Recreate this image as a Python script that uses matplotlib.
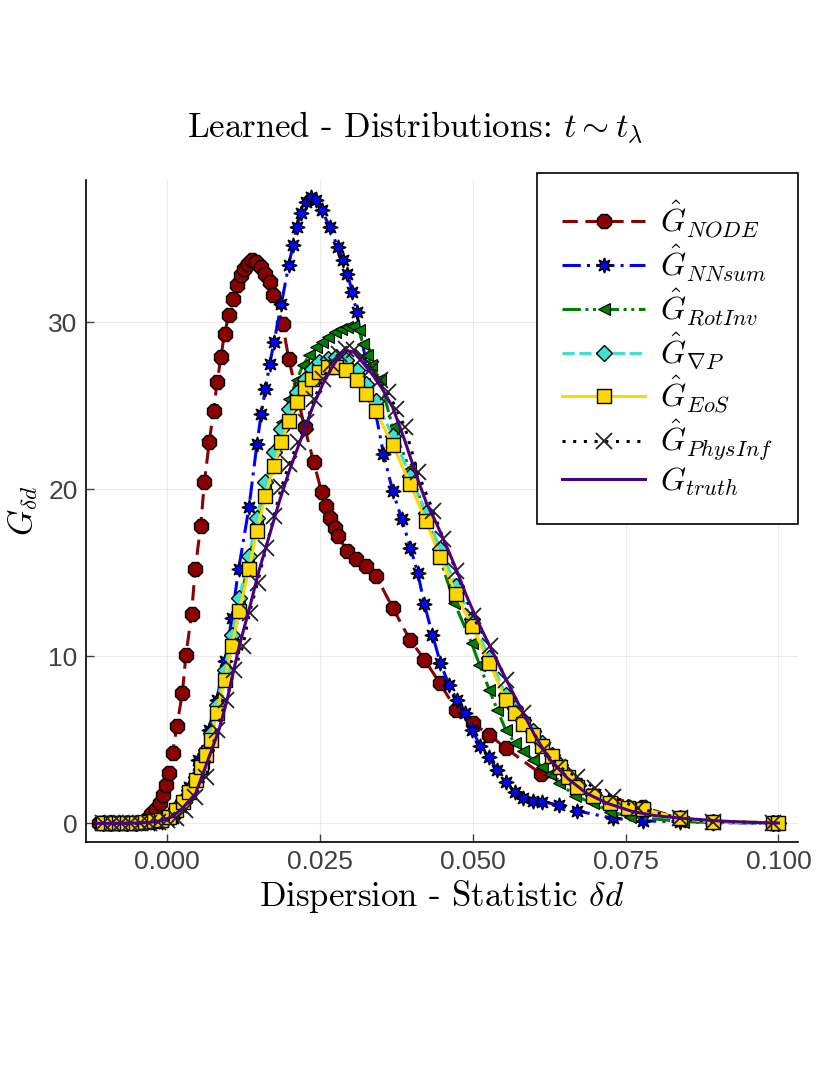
import numpy as np
import matplotlib
matplotlib.use('Agg')
import matplotlib.pyplot as plt

plt.rcParams['mathtext.fontset'] = 'cm'
plt.rcParams['font.family'] = ['Liberation Sans', 'DejaVu Sans']

# ---- data ----
x_node = [-0.0111, -0.0100, -0.0090, -0.0065, -0.0050, -0.0035, -0.0026, -0.0018, -0.0011, -0.0006,
          -0.0001, 0.0004, 0.0009, 0.0016, 0.0025, 0.0031, 0.0040, 0.0046, 0.0055, 0.0061,
          0.0069, 0.0076, 0.0082, 0.0088, 0.0094, 0.0101, 0.0108, 0.0114, 0.0121, 0.0126,
          0.0132, 0.0139, 0.0146, 0.0153, 0.0161, 0.0168, 0.0174, 0.0189, 0.0199, 0.0225,
          0.0240, 0.0253, 0.0260, 0.0267, 0.0274, 0.0280, 0.0294, 0.0309, 0.0325, 0.0342,
          0.0369, 0.0397, 0.0421, 0.0446, 0.0473, 0.0500, 0.0527, 0.0554, 0.0612, 0.0779,
          0.0839, 0.0893, 0.0991]
y_node = [0.0, 0.0, 0.0, 0.0, 0.05, 0.2, 0.56, 0.84, 1.2, 1.7,
          2.3, 3.0, 4.2, 5.8, 7.8, 10.1, 12.5, 15.2, 17.8, 20.4,
          22.8, 24.7, 26.4, 27.9, 29.3, 30.4, 31.4, 32.2, 32.8, 33.2,
          33.5, 33.7, 33.6, 33.3, 32.9, 32.4, 31.6, 29.9, 27.8, 23.7,
          21.6, 19.8, 19.0, 18.3, 17.7, 17.2, 16.3, 15.8, 15.4, 14.8,
          12.9, 11.0, 9.8, 8.4, 6.8, 6.0, 5.3, 4.5, 2.95, 0.96,
          0.3, 0.1, 0.04]

x_nnsum = [-0.0110, -0.0095, -0.0080, -0.0065, -0.0050, -0.0036, -0.0022, -0.0008, 0.0009, 0.0022,
           0.0036, 0.0050, 0.0068, 0.0081, 0.0095, 0.0106, 0.0117, 0.0134, 0.0147, 0.0154,
           0.0161, 0.0168, 0.0175, 0.0187, 0.0199, 0.0206, 0.0212, 0.0219, 0.0227, 0.0236,
           0.0244, 0.0253, 0.0266, 0.0279, 0.0288, 0.0295, 0.0303, 0.0310, 0.0354, 0.0369,
           0.0384, 0.0398, 0.0410, 0.0421, 0.0434, 0.0447, 0.0461, 0.0474, 0.0487, 0.0499,
           0.0512, 0.0527, 0.0540, 0.0554, 0.0569, 0.0583, 0.0599, 0.0614, 0.0641, 0.0670,
           0.0730, 0.0778, 0.0839, 0.0893, 0.0991]
y_nnsum = [0.0, 0.0, 0.0, 0.0, 0.0, 0.0, 0.05, 0.1, 0.3, 1.0,
           2.2, 3.8, 5.6, 7.4, 9.7, 12.3, 15.2, 18.9, 22.7, 24.5,
           26.0, 27.5, 28.8, 31.1, 33.4, 34.6, 35.7, 36.5, 37.2, 37.5,
           37.3, 36.7, 35.7, 34.5, 33.7, 32.9, 31.8, 30.6, 22.1, 19.9,
           18.2, 16.5, 15.0, 13.1, 11.3, 9.6, 8.3, 7.4, 6.6, 5.6,
           4.65, 3.95, 3.2, 2.45, 1.85, 1.5, 1.35, 1.29, 1.1, 0.75,
           0.3, 0.15, 0.1, 0.05, 0.02]

x_rotinv = [-0.0110, -0.0095, -0.0080, -0.0065, -0.0050, -0.0036, -0.0022, -0.0008, 0.0004, 0.0015,
            0.0026, 0.0036, 0.0047, 0.0058, 0.0070, 0.0082, 0.0094, 0.0106, 0.0118, 0.0133,
            0.0147, 0.0161, 0.0175, 0.0188, 0.0200, 0.0212, 0.0222, 0.0233, 0.0243, 0.0253,
            0.0264, 0.0274, 0.0284, 0.0294, 0.0304, 0.0314, 0.0320, 0.0327, 0.0334, 0.0348,
            0.0369, 0.0397, 0.0425, 0.0447, 0.0470, 0.0498, 0.0511, 0.0527, 0.0540, 0.0554,
            0.0569, 0.0583, 0.0599, 0.0614, 0.0627, 0.0641, 0.0668, 0.0697, 0.0724, 0.0757,
            0.0844, 0.0893, 0.0995]
y_rotinv = [0.0, 0.0, 0.0, 0.0, 0.0, 0.05, 0.1, 0.2, 0.4, 0.8,
            1.3, 1.9, 2.6, 3.6, 5.0, 6.8, 8.8, 10.9, 13.0, 15.6,
            18.0, 20.3, 22.4, 24.0, 25.4, 26.5, 27.4, 28.0, 28.5, 28.8,
            29.1, 29.4, 29.6, 29.7, 29.76, 29.5, 28.7, 28.0, 27.4, 26.6,
            23.7, 21.2, 18.3, 15.8, 13.2, 10.8, 9.5, 8.0, 6.8, 5.6,
            4.8, 4.3, 3.8, 3.4, 2.95, 2.43, 1.63, 1.2, 0.7, 0.4,
            0.1, 0.05, 0.0]

x_gradp = [-0.0105, -0.0092, -0.0078, -0.0065, -0.0050, -0.0036, -0.0022, -0.0010, 0.0004, 0.0015,
           0.0026, 0.0036, 0.0047, 0.0056, 0.0064, 0.0072, 0.0081, 0.0094, 0.0106, 0.0118,
           0.0134, 0.0147, 0.0161, 0.0175, 0.0187, 0.0200, 0.0212, 0.0225, 0.0237, 0.0249,
           0.0263, 0.0277, 0.0293, 0.0310, 0.0326, 0.0341, 0.0369, 0.0398, 0.0423, 0.0447,
           0.0473, 0.0499, 0.0527, 0.0554, 0.0569, 0.0583, 0.0599, 0.0614, 0.0629, 0.0642,
           0.0656, 0.0672, 0.0697, 0.0725, 0.0754, 0.0779, 0.0839, 0.0893, 0.0991, 0.1000]
y_gradp = [0.0, 0.0, 0.0, 0.0, 0.05, 0.1, 0.15, 0.25, 0.45, 0.9,
           1.4, 2.0, 2.8, 3.6, 4.4, 5.4, 7.1, 9.2, 11.3, 13.5,
           16.0, 18.3, 20.4, 22.2, 23.6, 24.8, 25.8, 26.6, 27.2, 27.6,
           27.8, 27.9, 27.7, 27.1, 26.3, 25.3, 23.2, 20.8, 18.6, 16.4,
           14.2, 12.2, 9.9, 7.7, 6.9, 6.2, 5.5, 4.8, 4.1, 3.5,
           2.9, 2.3, 1.7, 1.25, 0.95, 0.85, 0.3, 0.1, 0.04, 0.02]

x_eos = [-0.0105, -0.0092, -0.0078, -0.0065, -0.0050, -0.0036, -0.0022, -0.0010, 0.0004, 0.0015,
         0.0026, 0.0036, 0.0047, 0.0056, 0.0064, 0.0072, 0.0081, 0.0094, 0.0106, 0.0118,
         0.0134, 0.0147, 0.0161, 0.0175, 0.0187, 0.0200, 0.0212, 0.0225, 0.0237, 0.0249,
         0.0263, 0.0277, 0.0293, 0.0310, 0.0326, 0.0341, 0.0369, 0.0398, 0.0423, 0.0447,
         0.0473, 0.0499, 0.0527, 0.0554, 0.0569, 0.0583, 0.0599, 0.0614, 0.0629, 0.0642,
         0.0656, 0.0670, 0.0697, 0.0725, 0.0754, 0.0779, 0.0839, 0.0893, 0.0991, 0.1000]
y_eos = [0.0, 0.0, 0.0, 0.0, 0.05, 0.1, 0.15, 0.2, 0.4, 0.8,
         1.3, 1.9, 2.6, 3.4, 4.1, 5.0, 6.6, 8.6, 10.6, 12.7,
         15.2, 17.5, 19.6, 21.4, 22.8, 24.1, 25.2, 26.05, 26.6, 27.0,
         27.3, 27.3, 27.1, 26.5, 25.7, 24.7, 22.65, 20.3, 18.1, 15.95,
         13.7, 11.8, 9.6, 7.4, 6.6, 5.95, 5.3, 4.6, 4.0, 3.4,
         2.8, 2.2, 1.63, 1.2, 0.9, 0.84, 0.3, 0.1, 0.04, 0.02]

x_phys = [-0.0105, -0.0090, -0.0075, -0.0060, -0.0045, -0.0030, -0.0015, 0.0000, 0.0015, 0.0030,
          0.0045, 0.0064, 0.0081, 0.0097, 0.0110, 0.0124, 0.0135, 0.0148, 0.0162, 0.0175,
          0.0187, 0.0200, 0.0214, 0.0228, 0.0241, 0.0255, 0.0268, 0.0281, 0.0293, 0.0306,
          0.0320, 0.0334, 0.0348, 0.0361, 0.0375, 0.0389, 0.0410, 0.0435, 0.0452, 0.0473,
          0.0500, 0.0528, 0.0555, 0.0582, 0.0615, 0.0640, 0.0670, 0.0700, 0.0730, 0.0770,
          0.0839, 0.0893, 0.0991]
y_phys = [0.0, 0.0, 0.0, 0.0, 0.0, 0.05, 0.1, 0.2, 0.3, 0.8,
          1.6, 2.8, 5.6, 7.4, 9.2, 10.6, 12.6, 14.4, 16.5, 18.4,
          20.1, 21.5, 22.8, 24.0, 25.4, 26.6, 27.5, 28.1, 28.4, 28.3,
          27.9, 27.2, 26.5, 25.8, 24.8, 23.7, 21.0, 18.7, 17.0, 15.1,
          12.4, 10.6, 8.6, 6.6, 4.4, 3.4, 2.8, 2.1, 1.6, 0.9,
          0.3, 0.1, 0.04]

x_truth = [-0.0115, -0.0080, -0.0050, -0.0030, -0.0010, 0.0009, 0.0025, 0.0047, 0.0069, 0.0085,
           0.0097, 0.0118, 0.0135, 0.0151, 0.0168, 0.0184, 0.0200, 0.0217, 0.0238, 0.0255,
           0.0270, 0.0283, 0.0293, 0.0305, 0.0315, 0.0335, 0.0352, 0.0369, 0.0388, 0.0408,
           0.0424, 0.0440, 0.0457, 0.0473, 0.0490, 0.0508, 0.0528, 0.0552, 0.0577, 0.0601,
           0.0626, 0.0655, 0.0686, 0.0720, 0.0762, 0.0800, 0.0844, 0.0900, 0.0960, 0.1000]
y_truth = [0.0, 0.0, 0.02, 0.05, 0.15, 0.4, 0.9, 1.8, 4.0, 5.6,
           7.2, 10.6, 12.9, 15.2, 17.3, 19.3, 21.1, 22.8, 24.9, 26.3,
           27.3, 28.0, 28.3, 28.2, 27.8, 26.9, 26.0, 24.9, 23.0, 20.8,
           19.2, 18.0, 16.6, 15.2, 13.6, 12.1, 10.6, 8.8, 7.0, 5.3,
           3.8, 2.7, 1.8, 1.2, 0.7, 0.45, 0.3, 0.15, 0.05, 0.02]

x_ticks = [0.0, 0.025, 0.05, 0.075, 0.1]
x_ticklabels = ['0.000', '0.025', '0.050', '0.075', '0.100']
y_ticks = [0, 10, 20, 30]

fig = plt.figure(figsize=(8.3, 10.75), dpi=100)
ax = fig.add_axes([0.1036, 0.217, 0.8578, 0.6156])

ax.plot(x_node, y_node, color='#8B0000', lw=2.2, ls=(0, (5, 2.5)), marker='8', ms=10.5,
        mfc='#8B0000', mec='black', mew=1.0, label=r'$\hat{G}_{NODE}$')
ax.plot(x_nnsum, y_nnsum, color='#0000FF', lw=2.2, ls=(0, (6, 2, 1, 2)), marker=(8, 1, 0), ms=11,
        mfc='#0000FF', mec='black', mew=1.0, label=r'$\hat{G}_{NNsum}$')
ax.plot(x_rotinv, y_rotinv, color='#008000', lw=2.2, ls=(0, (6, 1.5, 1, 1.5, 1, 1.5)), marker='<', ms=8,
        mfc='#008000', mec='black', mew=0.8, label=r'$\hat{G}_{RotInv}$')
ax.plot(x_gradp, y_gradp, color='#40E0D0', lw=2.2, ls=(0, (4, 1.5)), marker='D', ms=8.5,
        mfc='#40E0D0', mec='black', mew=1.0, label=r'$\hat{G}_{\nabla P}$')
ax.plot(x_eos, y_eos, color='#FFD700', lw=2.2, ls='-', marker='s', ms=10,
        mfc='#FFD700', mec='black', mew=1.0, label=r'$\hat{G}_{EoS}$')
ax.plot(x_phys, y_phys, color='black', lw=2.2, ls=(0, (1, 2.5)), marker='x', ms=11,
        mec='#222222', mew=1.3, label=r'$\hat{G}_{PhysInf}$')
ax.plot(x_truth, y_truth, color='#4B0082', lw=2.2, ls='-', label=r'$G_{truth}$')

ax.set_xlim(-0.01326, 0.1032)
ax.set_ylim(-1.1, 38.5)
ax.set_xticks(x_ticks)
ax.set_xticklabels(x_ticklabels)
ax.set_yticks(y_ticks)
ax.tick_params(direction='in', length=6, width=1.0, labelsize=19, colors='#404040', pad=6)
ax.grid(True, color='black', alpha=0.08, lw=0.8)
for side in ['top', 'right']:
    ax.spines[side].set_visible(False)
for side in ['left', 'bottom']:
    ax.spines[side].set_linewidth(1.2)

ax.set_xlabel(r'Dispersion - Statistic $\delta d$', family='cmr10', fontsize=25, labelpad=3)
ax.set_ylabel(r'$G_{\delta d}$', fontsize=24, labelpad=6)
fig.text(0.5, 0.881, r'Learned - Distributions: $t \sim t_\lambda$', family='cmr10', fontsize=25,
         ha='center', va='center')

leg = ax.legend(loc='upper right', bbox_to_anchor=(0.9614, 0.839), bbox_transform=fig.transFigure,
                fontsize=23, frameon=True, fancybox=False, edgecolor='black', framealpha=1,
                handlelength=2.6, handletextpad=0.45, borderpad=0.8, labelspacing=0.08,
                borderaxespad=0)
leg.get_frame().set_linewidth(1.2)

plt.savefig('out.png', dpi=100)
